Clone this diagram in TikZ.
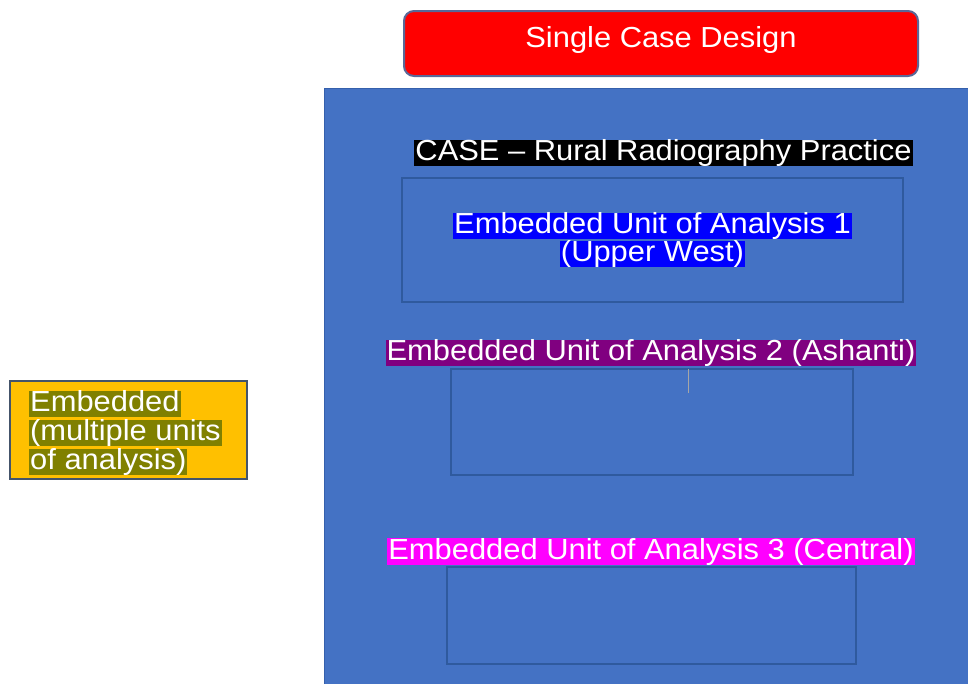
\documentclass[tikz,border=0pt]{standalone}
\usepackage{fontspec}
\setmainfont{Liberation Sans}[FakeStretch=1.065]
\definecolor{bgblue}{HTML}{4472C4}
\definecolor{edgeblue}{HTML}{3560AC}
\definecolor{boxedge}{HTML}{2F5A9E}
\definecolor{redfill}{HTML}{FF0000}
\definecolor{rededge}{HTML}{5A6898}
\definecolor{yel}{HTML}{FFC000}
\definecolor{yeledge}{HTML}{44546A}
\definecolor{hlblue}{HTML}{0000FF}
\definecolor{hlpurple}{HTML}{800080}
\definecolor{hlmagenta}{HTML}{FF00FF}
\definecolor{hlolive}{HTML}{808000}
\begin{document}
\begin{tikzpicture}[x=1pt,y=-1pt,
  txt/.style={font=\fontsize{29}{29}\selectfont, text=white},
  hl/.style={txt, fill=#1, inner xsep=1pt, inner ysep=0pt, text height=21pt, text depth=5.5pt},
  unitbox/.style={draw=boxedge, line width=2pt},
]
\useasboundingbox (0,0) rectangle (968,683);
\fill[white] (0,0) rectangle (968,683);
% big case area
\path[fill=bgblue, draw=edgeblue, line width=1pt] (324,88) rectangle (972,690);
% title
\node[draw=rededge, fill=redfill, line width=2pt, rounded corners=10pt,
  minimum width=514pt, minimum height=65pt, inner sep=0pt] (title) at (661,43.5) {};
\node[txt, text=white, anchor=base] (titletxt) at (661,47) {Single Case Design};
% case label
\node[hl=black] (case) at (663.5,153) {CASE -- Rural Radiography Practice};
% unit 1
\path[unitbox] (402,178) rectangle (903,302);
\node[hl=hlblue] (u1a) at (652.5,226) {Embedded Unit of Analysis 1};
\node[hl=hlblue] (u1b) at (652.5,254) {(Upper West)};
% unit 2
\node[hl=hlpurple] (u2) at (651,353) {Embedded Unit of Analysis 2 (Ashanti)};
\path[unitbox] (451,369) rectangle (853,475);
\coordinate (c1) at (688,369);
\coordinate (c2) at (688,393);
\draw[gray!70, line width=1pt] (c1) -- (c2);
% unit 3
\node[hl=hlmagenta] (u3) at (651,551.5) {Embedded Unit of Analysis 3 (Central)};
\path[unitbox] (447,567) rectangle (856,664);
% left yellow box
\node[draw=yeledge, fill=yel, line width=2pt, minimum width=237pt, minimum height=98pt, inner sep=0pt] (emb) at (128.5,430) {};
\node[hl=hlolive, anchor=west] (e1) at (29,404) {Embedded};
\node[hl=hlolive, anchor=west] (e2) at (29,433) {(multiple units};
\node[hl=hlolive, anchor=west] (e3) at (29,462) {of analysis)};
\end{tikzpicture}
\end{document}
